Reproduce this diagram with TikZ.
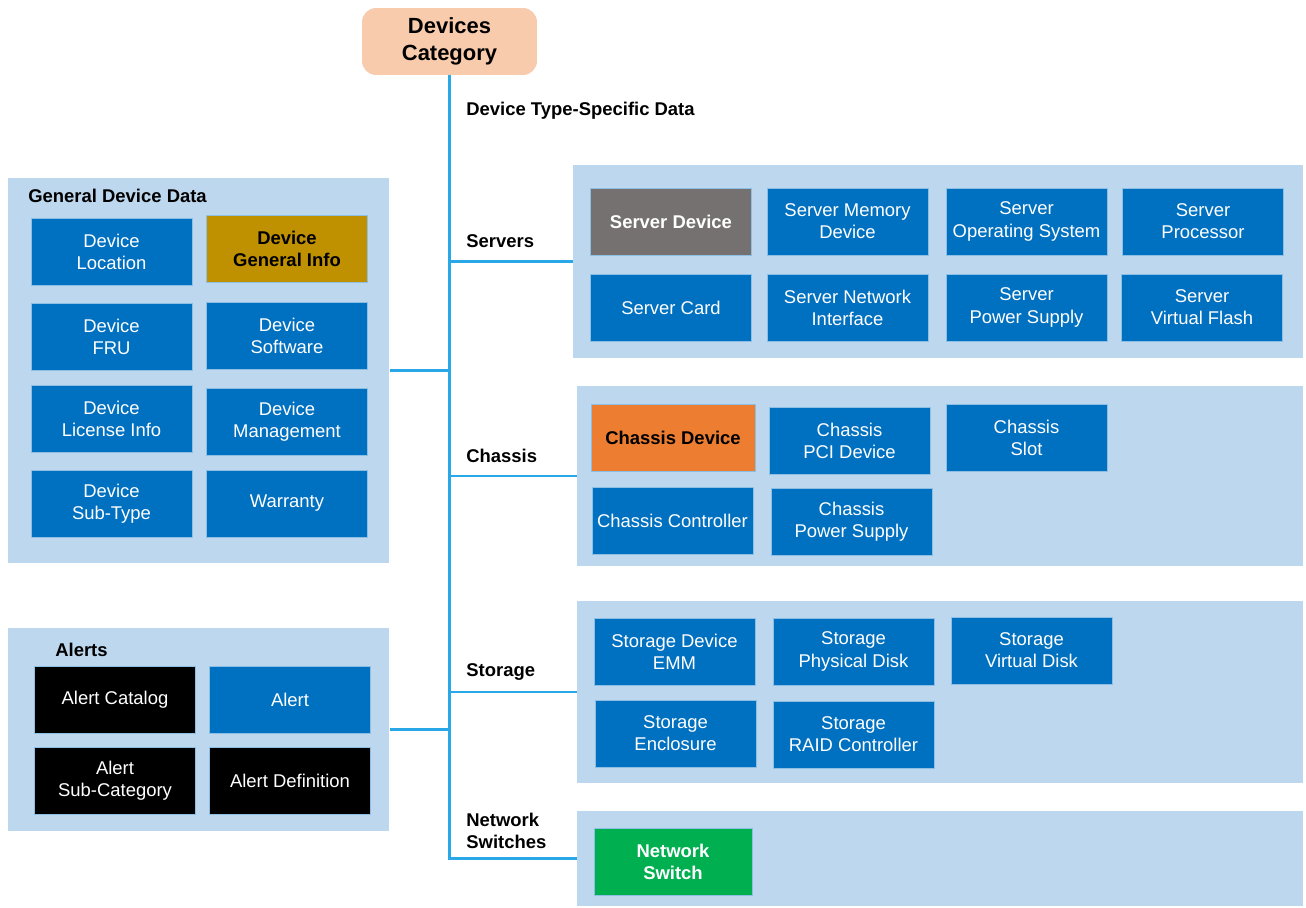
\documentclass[tikz,border=0pt]{standalone}
\usepackage{fontspec}
\setmainfont{Liberation Sans}
\usetikzlibrary{positioning}
\definecolor{panelblue}{HTML}{BDD7EE}
\definecolor{itemblue}{HTML}{0070C0}
\definecolor{gold}{HTML}{BF9000}
\definecolor{slate}{HTML}{767171}
\definecolor{tangerine}{HTML}{ED7D31}
\definecolor{leaf}{HTML}{00B050}
\definecolor{peach}{HTML}{F8CBAD}
\definecolor{wire}{HTML}{29A8E8}
\tikzset{
  panel/.style={fill=panelblue, draw=none, inner sep=0},
  item/.style={fill=itemblue, draw=white!55!itemblue, line width=0.4pt, text=white,
    minimum width=3.22cm, minimum height=1.34cm, align=center, inner sep=1pt,
    font=\fontsize{10.5}{12.6}\selectfont},
  keyitem/.style={item, font=\fontsize{10.5}{12.6}\selectfont\bfseries},
  heading/.style={font=\fontsize{10.5}{12.6}\selectfont\bfseries, anchor=west, align=left, inner sep=0},
  link/.style={draw=wire, line width=1.2pt},
}

\begin{document}
\begin{tikzpicture}[x=0.02cm, y=-0.02cm]
  \useasboundingbox (0,0) rectangle (1306,907);
  % root
  \node[fill=peach, rounded corners=8pt, minimum width=3.5cm, minimum height=1.34cm, align=center,
        font=\fontsize{12.5}{15}\selectfont\bfseries] (devcat) at (449.5,41.5) {Devices\\Category};
  \node[heading] (ltype) at (466,111) {Device Type-Specific Data};

  % panels
  \node[panel, minimum width=7.64cm, minimum height=7.7cm] (gen) at (198.5,370.5) {};
  \node[panel, minimum width=7.64cm, minimum height=4.06cm] (alerts) at (198.5,729.5) {};
  \node[panel, minimum width=14.6cm, minimum height=3.86cm] (srv) at (938,261.5) {};
  \node[panel, minimum width=14.52cm, minimum height=3.6cm] (chas) at (940,476) {};
  \node[panel, minimum width=14.52cm, minimum height=3.64cm] (stor) at (940,692) {};
  \node[panel, minimum width=14.52cm, minimum height=1.9cm] (net) at (940,858.5) {};

  % general device data
  \node[heading] (gentitle) at (28,196) {General Device Data};
  \node[item] (loc) at (111.5,251.5) {Device\\Location};
  \node[keyitem, fill=gold, text=black] (geninfo) at (287,248.5) {Device\\General Info};
  \node[item] (fru) at (111.5,337) {Device\\FRU};
  \node[item] (soft) at (287,336) {Device\\Software};
  \node[item] (lic) at (111.5,419) {Device\\License Info};
  \node[item] (mgmt) at (287,421.5) {Device\\Management};
  \node[item] (subtype) at (111.5,503.5) {Device\\Sub-Type};
  \node[item] (warr) at (287,503.5) {Warranty};

  % alerts
  \node[heading] (alerttitle) at (55,650) {Alerts};
  \node[item, fill=black] (acat) at (115,699.5) {Alert Catalog};
  \node[item] (alert) at (290,699.5) {Alert};
  \node[item, fill=black] (asub) at (115,780.5) {Alert\\Sub-Category};
  \node[item, fill=black] (adef) at (290,780.5) {Alert Definition};

  % servers
  \node[heading] (lsrv) at (466,241) {Servers};
  \node[keyitem, fill=slate] (sdev) at (671,221.5) {Server Device};
  \node[item] (smem) at (847.5,221.5) {Server Memory\\Device};
  \node[item] (sos) at (1026.5,221.5) {Server\\Operating System};
  \node[item] (sproc) at (1203,221.5) {Server\\Processor};
  \node[item] (scard) at (671,307.5) {Server Card};
  \node[item] (snic) at (847.5,307.5) {Server Network\\Interface};
  \node[item] (spsu) at (1026.5,307.5) {Server\\Power Supply};
  \node[item] (sflash) at (1202,307.5) {Server\\Virtual Flash};

  % chassis
  \node[heading] (lchas) at (466,456) {Chassis};
  \node[keyitem, fill=tangerine, text=black, minimum width=3.28cm] (cdev) at (673,437.5) {Chassis Device};
  \node[item] (cpci) at (849.5,440.5) {Chassis\\PCI Device};
  \node[item] (cslot) at (1026.5,437.5) {Chassis\\Slot};
  \node[item] (cctrl) at (672.5,520.5) {Chassis Controller};
  \node[item] (cpsu) at (851.5,521.5) {Chassis\\Power Supply};

  % storage
  \node[heading] (lstor) at (466,672) {Storage};
  \node[item] (emm) at (674.5,651.5) {Storage Device\\EMM};
  \node[item] (pdisk) at (853.5,651.5) {Storage\\Physical Disk};
  \node[item] (vdisk) at (1031.5,650.5) {Storage\\Virtual Disk};
  \node[item] (encl) at (675.5,733.5) {Storage\\Enclosure};
  \node[item] (raid) at (853.5,734.5) {Storage\\RAID Controller};

  % network switches
  \node[heading] (lnet) at (466,831) {Network\\Switches};
  \node[keyitem, fill=leaf, minimum width=3.16cm] (nsw) at (673,861.5) {Network\\Switch};

  % connectors
  \draw[link] (devcat.south) |- (net.west);
  \draw[link] (srv.west) -- (srv.west -| devcat.south);
  \draw[link] (chas.west) -- (chas.west -| devcat.south);
  \draw[link] (stor.west) -- (stor.west -| devcat.south);
  \draw[link] (gen.east) -- (gen.east -| devcat.south);
  \draw[link] (alerts.east) -- (alerts.east -| devcat.south);
\end{tikzpicture}
\end{document}
